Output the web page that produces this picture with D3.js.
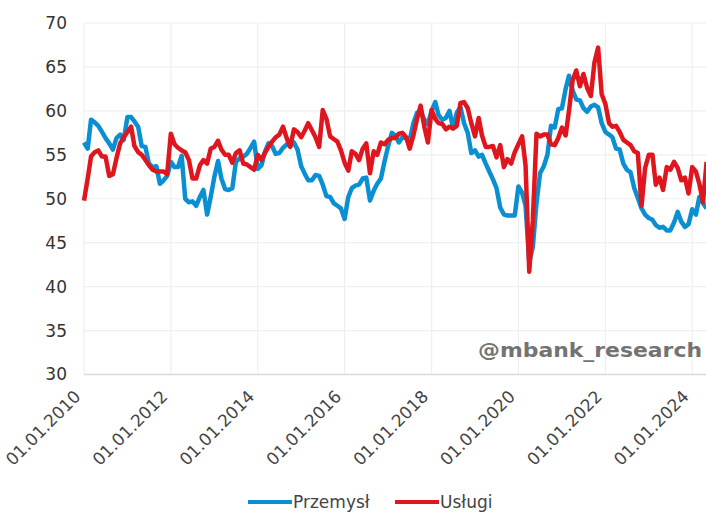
<!DOCTYPE html>
<html>
<head>
<meta charset="utf-8">
<script src="https://cdn.jsdelivr.net/npm/d3@7"></script>
<style>
  body { margin: 0; background: #fff; }
  svg { display: block; font-family: "DejaVu Sans", Verdana, sans-serif; }
</style>
</head>
<body>
<div id="chart"></div>
<script>
// monthly readings, Jan 2010 .. May 2024
var startMonth = "2010-01";
var przemysl = [
  56.4, 55.7, 59.0, 58.7, 58.3, 57.6, 56.9, 56.3, 55.6, 56.9, 57.3, 56.7,
  59.3, 59.3, 58.8, 58.2, 56.0, 55.9, 54.0, 53.6, 53.7, 51.7, 52.1, 52.6,
  54.2, 53.6, 53.6, 54.9, 50.0, 49.6, 49.7, 49.2, 50.2, 51.0, 48.2, 50.2,
  52.5, 54.3, 52.3, 51.1, 51.0, 51.2, 54.2, 54.6, 54.8, 55.1, 55.8, 56.5,
  53.4, 53.8, 55.3, 56.3, 56.0, 55.1, 55.2, 55.8, 56.2, 56.0, 56.4, 55.6,
  53.7, 52.8, 52.1, 52.1, 52.7, 52.6, 51.6, 50.3, 50.2, 49.5, 49.2, 48.9,
  47.7, 50.2, 51.2, 51.5, 51.6, 52.3, 52.4, 49.8, 50.9, 51.7, 52.3, 54.2,
  56.0, 57.5, 57.2, 56.4, 57.0, 56.9, 56.7, 58.6, 59.8, 59.9, 59.0, 58.5,
  60.0, 61.0, 59.5, 59.0, 59.2, 60.0, 58.0, 59.8, 60.4, 58.6, 57.5, 55.2,
  55.5, 54.8, 55.0, 54.0, 53.1, 52.2, 51.2, 49.0, 48.2, 48.1, 48.1, 48.1,
  51.4, 50.7, 49.2, 42.8, 44.5, 49.5, 52.9, 53.7, 55.0, 58.3, 58.1, 60.2,
  60.3, 62.5, 64.0, 62.3, 61.3, 61.2, 60.3, 59.9, 60.5, 60.7, 60.4, 58.6,
  57.6, 57.3, 57.0, 55.7, 55.6, 54.0, 53.3, 53.0, 51.2, 50.1, 48.9, 48.2,
  47.8, 47.6, 47.0, 46.7, 46.8, 46.4, 46.4, 47.3, 48.5, 47.4, 46.8, 47.1,
  48.8, 48.2, 50.2, 49.5, 48.9
];
var uslugi = [
  49.8, 52.3, 54.8, 55.3, 55.5, 54.8, 54.8, 52.6, 52.8, 54.6, 56.3, 57.0,
  57.6, 58.2, 56.0, 55.3, 55.0, 54.4, 53.8, 53.3, 53.1, 53.1, 53.1, 52.8,
  57.4, 56.2, 55.8, 55.5, 55.3, 54.4, 52.3, 52.3, 53.8, 54.4, 54.0, 55.7,
  55.9, 56.6, 55.6, 55.0, 55.0, 54.1, 55.2, 55.5, 54.0, 53.9, 53.6, 53.3,
  55.0, 54.4, 55.2, 55.9, 56.5, 57.0, 57.3, 58.2, 56.9, 55.9, 57.9, 57.6,
  57.0, 57.8, 58.6, 57.8, 57.0, 55.9, 60.1, 59.1, 57.1, 56.8, 56.5, 55.5,
  54.1, 53.2, 55.4, 55.1, 54.4, 55.7, 56.3, 52.9, 55.4, 55.0, 56.4, 56.2,
  56.7, 56.9, 56.9, 57.4, 57.5, 57.0, 55.7, 57.2, 59.1, 60.6, 58.2, 56.4,
  60.1, 59.1, 58.6, 58.5, 57.9, 58.2, 58.0, 58.3, 60.9, 61.0, 60.3, 58.6,
  57.1, 59.2, 57.2, 55.9, 55.9, 56.0, 54.7, 56.1, 53.6, 54.5, 54.0, 55.3,
  56.2, 57.1, 53.8, 41.7, 47.5, 57.4, 57.1, 57.3, 57.3, 56.2, 56.1, 56.9,
  58.1, 57.2, 60.0, 63.5, 64.6, 62.8, 64.2, 62.6, 61.7, 65.5, 67.2, 61.9,
  60.8, 58.6, 58.2, 58.3, 57.6, 56.7, 56.4, 56.1, 55.4, 55.2, 49.2, 53.5,
  55.0, 55.0, 51.6, 52.4, 51.0, 53.6, 53.3, 54.2, 53.5, 52.1, 52.4, 50.6,
  53.6, 53.1, 51.7, 49.6, 54.2
];
var seriesNames = ["Przemysł", "Usługi"];
var seriesColors = ["#0a8fd2", "#e0161e"];
var yTicks = [30, 35, 40, 45, 50, 55, 60, 65, 70];
var xTickYears = [2010, 2012, 2014, 2016, 2018, 2020, 2022, 2024];

var width = 706, height = 512;
var plotL = 84, plotR = 706.6, plotT = 23, plotB = 374.5;

var parseMonth = d3.timeParse("%Y-%m");
var t0 = parseMonth(startMonth);
var dates = przemysl.map(function(d, i) { return d3.timeMonth.offset(t0, i); });

var svg = d3.select("#chart").append("svg")
    .attr("width", width)
    .attr("height", height);

var x = d3.scaleTime()
    .domain([t0, dates[dates.length - 1]])
    .range([plotL, plotR]);

var y = d3.scaleLinear()
    .domain([30, 70])
    .range([plotB, plotT]);

var xTicks = xTickYears.map(function(yr) { return new Date(yr, 0, 1); });

// grid
svg.append("g").selectAll("line")
  .data(yTicks.slice(1))
  .enter().append("line")
    .attr("x1", plotL).attr("x2", width)
    .attr("y1", function(d) { return y(d); })
    .attr("y2", function(d) { return y(d); })
    .attr("stroke", "#efefef")
    .attr("stroke-width", 1.2);

svg.append("g").selectAll("line")
  .data(xTicks)
  .enter().append("line")
    .attr("x1", function(d) { return x(d); })
    .attr("x2", function(d) { return x(d); })
    .attr("y1", plotT).attr("y2", plotB)
    .attr("stroke", "#efefef")
    .attr("stroke-width", 1.2);

// bottom axis
var xAxis = svg.append("g")
    .attr("transform", "translate(0," + plotB + ")")
    .call(d3.axisBottom(x).tickValues(xTicks).tickSize(0).tickFormat(d3.timeFormat("%d.%m.%Y")));
xAxis.select(".domain").attr("stroke", "#d9d9d9").attr("stroke-width", 1.5)
    .attr("d", "M" + plotL + ",0H" + width);
xAxis.selectAll("text")
    .attr("fill", "#444")
    .style("font-size", "17px")
    .style("font-family", "'DejaVu Sans', Verdana, sans-serif")
    .attr("text-anchor", "end")
    .attr("transform", "translate(-7,19) rotate(-45)")
    .attr("dy", "0.35em")
    .attr("y", 0);

// left axis
var yAxis = svg.append("g")
    .attr("transform", "translate(" + plotL + ",0)")
    .call(d3.axisLeft(y).tickValues(yTicks).tickSize(0).tickPadding(17));
yAxis.select(".domain").remove();
yAxis.selectAll("text")
    .attr("fill", "#333")
    .style("font-size", "17px")
    .style("font-family", "'DejaVu Sans', Verdana, sans-serif");

// lines
var line = d3.line()
    .x(function(d, i) { return x(dates[i]); })
    .y(function(d) { return y(d); });

[przemysl, uslugi].forEach(function(s, k) {
  svg.append("path")
    .datum(s)
    .attr("fill", "none")
    .attr("stroke", seriesColors[k])
    .attr("stroke-width", 4.5)
    .attr("stroke-linejoin", "round")
    .attr("d", line);
});

// watermark
svg.append("text")
    .attr("x", 702).attr("y", 357)
    .attr("text-anchor", "end")
    .attr("fill", "#737373")
    .attr("textLength", 224)
    .attr("lengthAdjust", "spacingAndGlyphs")
    .style("font-weight", "bold")
    .style("font-size", "20px")
    .text("@mbank_research");

// legend
var legend = svg.append("g").attr("transform", "translate(248,502)");
var legX = [0, 147];
seriesNames.forEach(function(n, k) {
  var g = legend.append("g").attr("transform", "translate(" + legX[k] + ",0)");
  g.append("line")
    .attr("x1", 0).attr("x2", 44)
    .attr("stroke", seriesColors[k])
    .attr("stroke-width", 4);
  g.append("text")
    .attr("x", 45).attr("dy", "0.35em")
    .attr("fill", "#444")
    .style("font-size", "17px")
    .text(n);
});
</script>
</body>
</html>
